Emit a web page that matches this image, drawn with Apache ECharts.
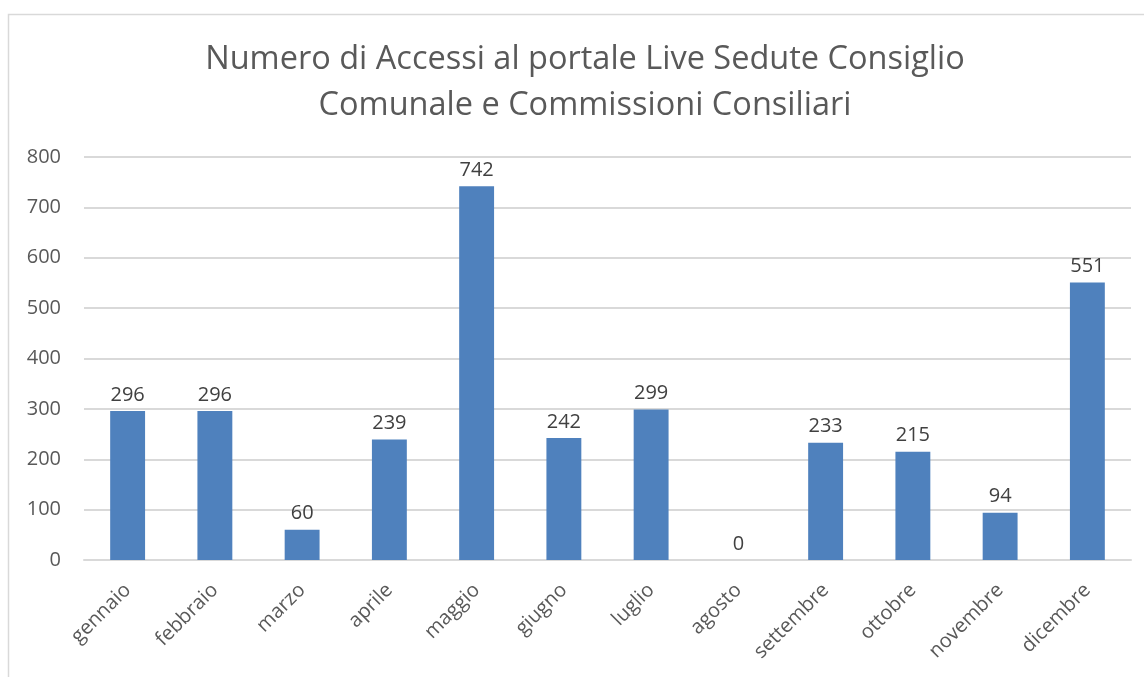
<!DOCTYPE html>
<html style="height: 100%">
<head>
    <meta charset="UTF-8">
    <title>Numero di Accessi al portale Live</title>
    <script src="https://cdn.jsdelivr.net/npm/echarts@6/dist/echarts.min.js"></script>
    <style>
        body { margin: 0; background: #fff; }
        #chart { width: 1144px; height: 677px; }
    </style>
</head>
<body>
    <div id="chart"></div>
    <script>
        // dati
        var mesi = ['gennaio', 'febbraio', 'marzo', 'aprile', 'maggio', 'giugno',
                    'luglio', 'agosto', 'settembre', 'ottobre', 'novembre', 'dicembre'];
        var accessi = [296, 296, 60, 239, 742, 242, 299, 0, 233, 215, 94, 551];
        var yTicks = [0, 100, 200, 300, 400, 500, 600, 700, 800];

        var font = '"Open Sans", "Noto Sans", sans-serif';

        var chart = echarts.init(document.getElementById('chart'));
        chart.setOption({
            animation: false,
            title: {
                text: 'Numero di Accessi al portale Live Sedute Consiglio\nComunale e Commissioni Consiliari',
                left: 580,
                top: 32,
                textAlign: 'center',
                textStyle: {
                    fontFamily: font,
                    fontSize: 32.5,
                    fontWeight: 'normal',
                    color: '#595959',
                    lineHeight: 46
                }
            },
            graphic: [{
                type: 'rect',
                shape: { x: 8.5, y: 14.5, width: 1150, height: 700 },
                style: { fill: 'none', stroke: '#d9d9d9', lineWidth: 1.5 },
                silent: true
            }],
            grid: { left: 84, right: 13, top: 157, bottom: 117 },
            xAxis: {
                type: 'category',
                data: mesi,
                axisLine: { lineStyle: { color: '#d9d9d9', width: 2 } },
                axisTick: { show: false },
                axisLabel: {
                    rotate: 45,
                    margin: 27,
                    interval: 0,
                    fontFamily: font,
                    fontSize: 20,
                    color: '#595959'
                }
            },
            yAxis: {
                type: 'value',
                min: yTicks[0],
                max: yTicks[yTicks.length - 1],
                interval: 100,
                axisLine: { show: false },
                axisTick: { show: false },
                splitLine: { lineStyle: { color: '#d9d9d9', width: 2 } },
                axisLabel: {
                    margin: 23,
                    fontFamily: font,
                    fontSize: 20,
                    color: '#595959'
                }
            },
            series: [{
                type: 'bar',
                data: accessi,
                barWidth: '40%',
                itemStyle: { color: '#4f81bd' },
                label: {
                    show: true,
                    position: 'top',
                    distance: 6,
                    fontFamily: font,
                    fontSize: 20,
                    color: '#404040'
                }
            }]
        });
    </script>
</body>
</html>
